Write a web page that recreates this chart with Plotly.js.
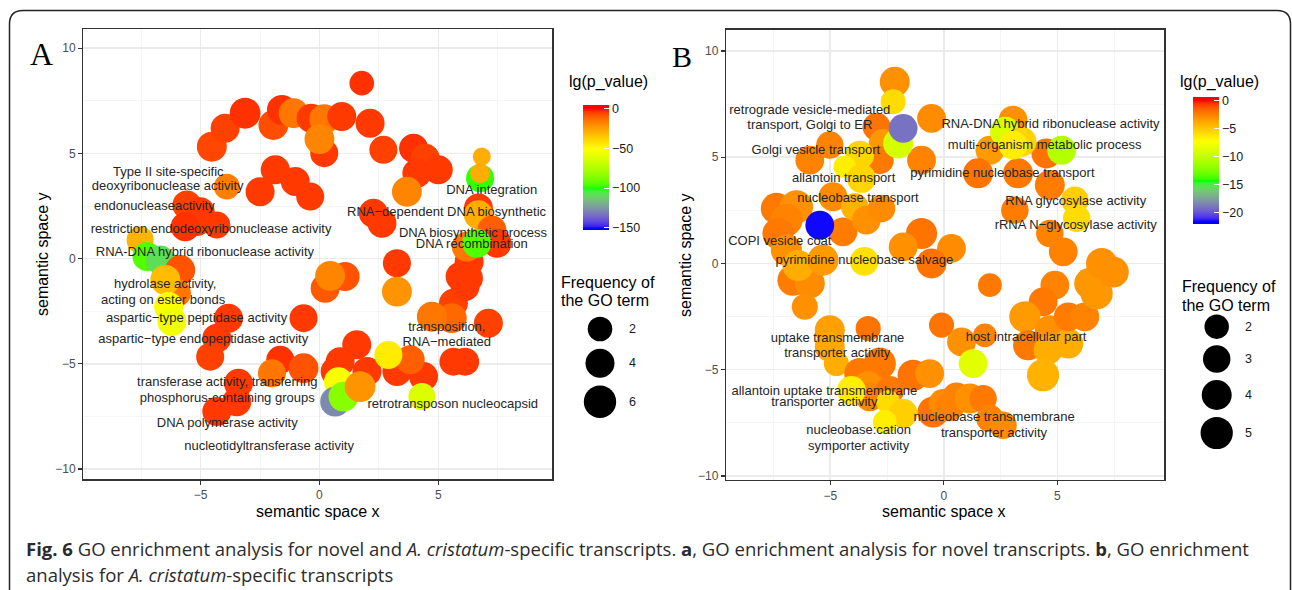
<!DOCTYPE html>
<html><head><meta charset="utf-8">
<script src="https://cdn.plot.ly/plotly-3.0.1.min.js"></script>
<style>html,body{margin:0;padding:0;background:#fff;}#chart{width:1292px;height:590px;}</style>
</head><body><div id="chart"></div>
<script>
// ---------------- Panel A data ----------------
const aX = [-4.53,-3.97,-3.13,-1.94,-1.58,-1.09,-0.35,0.20,0.94,0.20,0.00,1.78,2.13,2.69,3.96,4.45,4.10,5.00,3.68,2.27,2.63,-3.90,-2.50,-1.86,-1.02,-0.39,-5.58,-5.02,-5.16,-5.65,-4.32,-7.55,-7.26,-6.70,-5.86,-6.00,-6.49,-6.35,-6.21,-3.83,-4.32,-4.60,-3.41,-3.48,-4.32,-0.67,-1.65,-2.00,-0.67,0.24,1.08,0.45,3.26,3.26,1.57,0.87,0.66,2.00,3.26,4.38,3.82,2.90,4.31,0.80,0.66,1.01,1.71,5.64,6.13,6.27,6.30,5.92,5.57,4.73,7.11,5.64,6.13,6.69,6.69,7.26,7.47,6.20,6.62,6.76,6.83,6.76];
const aY = [5.32,6.20,6.91,6.35,7.07,6.91,6.67,6.63,6.75,5.01,5.68,8.34,6.44,5.17,5.25,4.77,4.06,4.22,3.18,2.16,1.68,3.42,3.18,4.22,3.66,2.95,2.55,2.23,1.76,1.52,1.60,0.89,0.10,-0.06,-0.54,-1.64,-1.01,-2.28,-2.99,-2.83,-3.78,-4.66,-5.92,-6.80,-7.27,-2.83,-4.81,-5.45,-5.21,-1.41,-0.85,-0.82,-0.22,-1.57,-4.10,-4.90,-5.37,-5.37,-5.37,-5.60,-4.81,-4.58,-6.56,-5.85,-6.80,-6.56,-6.08,-2.12,-1.33,-0.93,-0.15,-0.85,-2.83,-2.76,-3.07,-4.90,-4.90,2.40,2.08,1.36,0.73,0.57,0.73,3.82,4.85,4.06];
const aFreq = [4.5,4,5,4.5,4.5,4.5,4,4.5,4,3.5,4.5,2,4,3.5,4,4,4,4,4.5,4,4,2.5,4,4,4,3.5,4,4,4,4,3,3,4,4,4.5,3.5,4.5,4,4,4,4,3.5,4,4,4,3.5,3.5,3.5,4.5,4,4,4.5,3.5,4.5,4,4,4,4,4,4,4,3.5,3,4,4.5,4.5,5,4,4,4,4,4,4.5,4.5,4,3.5,3.5,4,4,4,4,4.5,4,3.5,0.3,0.6];
const aLg = [-6,-5,-3,-7,-3,-15,-4,-15,-4,-4,-18,-3,-4,-5,-3,-5,-4,-4,-18,-4,-4,-17,-4,-4,-4,-4,-5,-4,-4,-3,-4,-30,-95,-108,-8,-15,-32,-52,-55,-4,-4,-5,-4,-4,-4,-4,-3,-15,-8,-9,-8,-18,-4,-22,-4,-4,-4,-4,-4,-4,-10,-45,-62,-52,-128,-85,-22,-5,-4,-4,-4,-4,-12,-15,-5,-4,-4,-4,-28,-10,-4,-15,-95,-98,-28,-28];
const aLimit = -151;
const aLabels = ["Type II site-specific","deoxyribonuclease activity","endonucleaseactivity","restriction endodeoxyribonuclease activity","RNA-DNA hybrid ribonuclease activity","hydrolase activity,","acting on ester bonds","aspartic\u2212type peptidase activity","aspartic\u2212type endopeptidase activity","transferase activity, transferring","phosphorus-containing groups","DNA polymerase activity","nucleotidyltransferase activity","retrotransposon nucleocapsid","transposition,","RNA\u2212mediated","DNA integration","RNA\u2212dependent DNA biosynthetic","DNA biosynthetic process","DNA recombination"];
const aLabelX = [-6.36,-6.39,-6.95,-4.56,-4.82,-6.49,-6.58,-5.17,-4.89,-3.88,-3.88,-3.88,-2.12,5.61,5.36,5.36,7.25,5.35,6.46,6.41];
const aLabelY = [4.06,3.40,2.47,1.36,0.30,-1.25,-2.01,-2.88,-3.86,-5.92,-6.67,-7.86,-8.94,-6.96,-3.31,-4.02,3.22,2.16,1.17,0.65];
const aColorTicks = [0,-50,-100,-150];
const aColorTickText = ["0","\u221250","\u2212100","\u2212150"];
const aSizeLegend = [2,4,6];

// ---------------- Panel B data ----------------
const bX = [-2.16,-2.96,-2.67,-2.82,-3.70,-4.36,-3.63,-2.23,-5.02,-5.90,-0.54,-0.98,-4.88,-7.37,-6.49,-6.93,-7.30,-6.93,-6.64,-5.90,-6.42,-5.32,-6.12,-4.44,-3.92,-3.41,-2.74,-0.98,-1.79,0.34,-0.54,-3.50,-5.02,-5.02,-4.73,-3.33,-2.82,-3.70,-3.33,-3.26,-2.38,-1.35,-0.62,-4.07,-0.10,0.78,-2.45,-1.79,-2.60,-0.47,-0.03,0.26,0.56,1.15,1.73,2.03,2.61,1.81,2.03,1.29,5.26,4.89,4.37,3.57,4.67,3.71,5.48,4.59,4.37,5.48,6.21,6.43,6.73,6.95,7.46,3.05,2.03,1.51,3.27,4.52,4.67,3.13,4.67,2.70,3.42,3.05,5.19,5.77,5.85,-2.01,-1.79,-5.46];
const bY = [8.55,6.43,5.65,4.86,5.10,4.55,4.00,7.61,5.57,4.86,6.83,4.86,3.14,2.59,2.66,2.04,1.41,0.63,-0.79,-0.94,-0.10,0.16,-2.04,1.49,2.66,2.04,2.59,1.41,0.78,0.71,0.00,0.10,-3.14,-3.92,-4.71,-3.06,-4.71,-5.18,-5.81,-6.28,-5.97,-5.26,-5.18,-5.97,-2.90,-3.69,-6.52,-7.06,-7.46,-6.99,-6.59,-6.75,-6.28,-6.36,-6.36,-7.30,-7.61,-3.38,-1.02,-4.71,0.55,-1.02,-1.81,-2.51,-3.14,-3.85,-3.77,-4.08,-5.26,-2.51,-2.51,-0.94,-1.41,0.00,-0.40,6.75,5.33,4.24,4.24,5.18,3.69,2.51,1.41,6.20,5.73,5.57,5.33,2.98,2.12,5.65,6.36,1.80];
const bFreq = [4,3.2,3.5,3.2,3.5,1.5,3.5,2.2,3,3.5,3.5,3.5,3.5,4.5,5.5,5,4.5,4.5,4.5,4,4.5,4.5,2.5,3.5,3,3.5,3,4.5,3.5,3.5,4,3.5,4,4,2.2,2.2,5,4.5,4.5,3.5,3.5,4.5,3.5,3.5,2.2,3.5,1.8,3.5,1.8,4.5,3.5,3.5,3.5,4,3,3,3,1.8,1.8,3.5,3.5,3.5,3.5,4.5,4,4,4,3.5,5,3.5,3.5,4.5,5,4.5,4.5,3.5,3.5,4,4,4,4,3,3,4,4,3.5,3.5,3,3,4,3.5,3.5];
const bLg = [-3,-2,-3.2,-2.2,-5.5,-6.5,-5.5,-5.8,-2.5,-2.5,-2.8,-2.5,-2.8,-2.2,-3,-2.5,-2.2,-3,-2.3,-2.8,-4,-3.3,-3,-2.3,-4.2,-3,-2.8,-2,-3,-2.8,-2,-6,-3.5,-3.8,-4,-2,-2.2,-2.2,-3,-2.6,-2.2,-2,-3,-6.5,-2,-3,-5.8,-5.3,-6.5,-2,-2.8,-2.5,-2.5,-3,-2.2,-2.5,-2.8,-2.5,-2.2,-8.5,-2.5,-2.5,-2.2,-3.3,-3,-2.2,-4,-4,-4.2,-2.3,-2.5,-3.2,-3.2,-3,-3,-3,-3.3,-2,-2.2,-2,-2.3,-2.3,-2.5,-9,-5.5,-6.5,-10.5,-5.3,-5.8,-9.2,-19,-21.5];
const bLimit = -21.5;
const bLabels = ["retrograde vesicle-mediated","transport, Golgi to ER","Golgi vesicle transport","allantoin transport","nucleobase transport","COPI vesicle coat","pyrimidine nucleobase salvage","RNA-DNA hybrid ribonuclease activity","multi-organism metabolic process","pyrimidine nucleobase transport","RNA glycosylase activity","rRNA N\u2212glycosylase activity","uptake transmembrane","transporter activity","allantoin uptake transmembrane","transporter activity","nucleobase:cation","symporter activity","nucleobase transmembrane","transporter activity","host intracellular part"];
const bLabelX = [-5.90,-5.90,-5.63,-4.41,-3.78,-7.22,-3.50,4.70,4.44,2.58,5.81,5.81,-4.68,-4.69,-5.26,-5.26,-3.75,-3.75,2.22,2.21,3.62];
const bLabelY = [7.18,6.46,5.30,3.97,3.06,1.02,0.11,6.54,5.52,4.20,2.90,1.76,-3.53,-4.27,-6.04,-6.56,-7.89,-8.63,-7.27,-8.00,-3.48];
const bColorTicks = [0,-5,-10,-15,-20];
const bColorTickText = ["0","\u22125","\u221210","\u221215","\u221220"];
const bSizeLegend = [2,3,4,5];

// ---------------- shared axis labels ----------------
const xTickVals = [-5,0,5];
const xTickText = ["\u22125","0","5"];
const yTickVals = [-10,-5,0,5,10];
const yTickText = ["\u221210","\u22125","0","5","10"];
const minorVals = [-7.5,-2.5,2.5,7.5];
const axisTitleX = "semantic space x";
const axisTitleY = "semantic space y";
const colorTitle = "lg(p_value)";
const sizeTitle = ["Frequency of","the GO term"];
const captionLines = ["<b>Fig. 6</b> GO enrichment analysis for novel and <i>A. cristatum</i>-specific transcripts. <b>a</b>, GO enrichment analysis for novel transcripts. <b>b</b>, GO enrichment",
                      "analysis for <i>A. cristatum</i>-specific transcripts"];

// ---------------- styling helpers ----------------
const W = 1292, H = 590;
const FONT = '"Liberation Sans", Arial, sans-serif';
const px = x => x / W, py = y => 1 - y / H;
const sizeA = f => 14 + 7.5 * Math.sqrt(f);
const sizeB = f => 11 + 9.5 * Math.sqrt(f);

// Lab interpolation (like ggplot's gradientn)
function lin(c){c/=255;return c<=0.04045?c/12.92:Math.pow((c+0.055)/1.055,2.4);}
function gam(c){c=c<=0.0031308?12.92*c:1.055*Math.pow(c,1/2.4)-0.055;return Math.round(Math.max(0,Math.min(1,c))*255);}
function toLab(rgb){const r=lin(rgb[0]),g=lin(rgb[1]),b=lin(rgb[2]);
  const X=(0.4124564*r+0.3575761*g+0.1804375*b)/0.95047,Y=(0.2126729*r+0.7151522*g+0.0721750*b),Z=(0.0193339*r+0.1191920*g+0.9503041*b)/1.08883;
  const f=t=>t>0.008856?Math.cbrt(t):7.787*t+16/116;const fx=f(X),fy=f(Y),fz=f(Z);
  return [116*fy-16,500*(fx-fy),200*(fy-fz)];}
function fromLab(l){const fy=(l[0]+16)/116,fx=fy+l[1]/500,fz=fy-l[2]/200;
  const fi=t=>{const t3=t*t*t;return t3>0.008856?t3:(t-16/116)/7.787;};
  const X=0.95047*fi(fx),Y=fi(fy),Z=1.08883*fi(fz);
  const r=3.2404542*X-1.5371385*Y-0.4985314*Z,g=-0.9692660*X+1.8760108*Y+0.0415560*Z,b=0.0556434*X-0.2040259*Y+1.0572252*Z;
  return 'rgb('+gam(r)+','+gam(g)+','+gam(b)+')';}
const anchors=[[0,0,255],[0,255,0],[255,255,0],[255,0,0]].map(toLab);
function grad(t){t=Math.max(0,Math.min(1,t));const s=Math.min(2,Math.floor(t*3));const u=t*3-s;
  const a=anchors[s],b=anchors[s+1];return fromLab([a[0]+(b[0]-a[0])*u,a[1]+(b[1]-a[1])*u,a[2]+(b[2]-a[2])*u]);}
function scale(cmin,cmax,limit){const out=[];const N=80;
  for(let i=0;i<=N;i++){const v=cmin+(cmax-cmin)*i/N;out.push([i/N,grad((v-limit)/(0-limit))]);}return out;}

const aC = {cmin:-153, cmax:5}, bC = {cmin:-22, cmax:0.7};

function axis(dom, rng, tv, tt, anchor){
  return {domain:dom, range:rng, anchor:anchor, tickmode:'array', tickvals:tv, ticktext:tt,
    showline:true, mirror:true, linecolor:'#333333', linewidth:1.2,
    ticks:'outside', ticklen:4, tickwidth:1.1, tickcolor:'#333333',
    tickfont:{family:FONT,size:12,color:'#4D4D4D'},
    showgrid:true, gridcolor:'#EBEBEB', gridwidth:1.5, zeroline:false, fixedrange:true,
    minor:{tickmode:'array', tickvals:minorVals, showgrid:true, gridcolor:'#F3F3F3', gridwidth:0.8, ticks:''}};
}

const traces = [
  {type:'scatter', mode:'markers', x:aX, y:aY, xaxis:'x', yaxis:'y', hoverinfo:'skip', cliponaxis:false,
   marker:{size:aFreq.map(sizeA), color:aLg, coloraxis:'coloraxis', opacity:1, line:{width:0}}},
  {type:'scatter', mode:'text', x:aLabelX, y:aLabelY, text:aLabels, xaxis:'x', yaxis:'y', hoverinfo:'skip', cliponaxis:false,
   textposition:'middle center', textfont:{family:FONT,size:13,color:'#262626'}},
  {type:'scatter', mode:'markers', x:bX, y:bY, xaxis:'x2', yaxis:'y2', hoverinfo:'skip', cliponaxis:false,
   marker:{size:bFreq.map(sizeB), color:bLg, coloraxis:'coloraxis2', opacity:1, line:{width:0}}},
  {type:'scatter', mode:'text', x:bLabelX, y:bLabelY, text:bLabels, xaxis:'x2', yaxis:'y2', hoverinfo:'skip', cliponaxis:false,
   textposition:'middle center', textfont:{family:FONT,size:13,color:'#262626'}},
  // size legend keys (pixel overlay axes)
  {type:'scatter', mode:'markers', x:aSizeLegend.map(()=>600), y:[329,363.3,401.7], xaxis:'x3', yaxis:'y3', hoverinfo:'skip', cliponaxis:false,
   marker:{size:aSizeLegend.map(sizeA), color:'rgb(0,0,0)', opacity:1, line:{width:0}}},
  {type:'scatter', mode:'markers', x:bSizeLegend.map(()=>1216.7), y:[326.7,359,395,433], xaxis:'x3', yaxis:'y3', hoverinfo:'skip', cliponaxis:false,
   marker:{size:bSizeLegend.map(sizeB), color:'rgb(0,0,0)', opacity:1, line:{width:0}}}
];

const ann = [];
function A(o){ann.push(Object.assign({xref:'paper',yref:'paper',showarrow:false,xanchor:'center',yanchor:'middle'},o));}
A({text:'A', x:px(41), y:py(54), font:{family:'"Liberation Serif", "Times New Roman", serif', size:32, color:'#000'}});
A({text:'B', x:px(682), y:py(56), font:{family:'"Liberation Serif", "Times New Roman", serif', size:30, color:'#000'}});
A({text:axisTitleX, x:px(318), y:py(511), font:{family:FONT,size:16,color:'#000'}});
A({text:axisTitleX, x:px(944), y:py(511), font:{family:FONT,size:16,color:'#000'}});
A({text:axisTitleY, x:px(42), y:py(254), textangle:-90, font:{family:FONT,size:16,color:'#000'}});
A({text:axisTitleY, x:px(686), y:py(255), textangle:-90, font:{family:FONT,size:16,color:'#000'}});
A({text:colorTitle, x:px(566.7), xanchor:'left', y:py(81.7), font:{family:FONT,size:16,color:'#000'}});
A({text:colorTitle, x:px(1178.3), xanchor:'left', y:py(81.7), font:{family:FONT,size:16,color:'#000'}});
A({text:sizeTitle[0], x:px(559.3), xanchor:'left', y:py(282.7), font:{family:FONT,size:16,color:'#000'}});
A({text:sizeTitle[1], x:px(559.3), xanchor:'left', y:py(300.7), font:{family:FONT,size:16,color:'#000'}});
A({text:sizeTitle[0], x:px(1180), xanchor:'left', y:py(286), font:{family:FONT,size:16,color:'#000'}});
A({text:sizeTitle[1], x:px(1180), xanchor:'left', y:py(305), font:{family:FONT,size:16,color:'#000'}});
[329,363.3,401.7].forEach((yy,i)=>A({text:String(aSizeLegend[i]), x:px(632), y:py(yy), font:{family:FONT,size:12.5,color:'#1a1a1a'}}));
[326.7,359,395,433].forEach((yy,i)=>A({text:String(bSizeLegend[i]), x:px(1248.3), y:py(yy), font:{family:FONT,size:12.5,color:'#1a1a1a'}}));
A({text:captionLines[0], x:px(24), xanchor:'left', y:py(548), font:{family:'"Open Sans", sans-serif', size:18.5, color:'#2b2b2b'}});
A({text:captionLines[1], x:px(24), xanchor:'left', y:py(574), font:{family:'"Open Sans", sans-serif', size:18.5, color:'#2b2b2b'}});

function cbar(x0, ytop, len, thick, tv, tt){
  return {x:px(x0), xanchor:'left', y:py(ytop), yanchor:'top', len:len, lenmode:'pixels',
    thickness:thick, thicknessmode:'pixels', xpad:0, ypad:0, outlinewidth:0,
    tickmode:'array', tickvals:tv, ticktext:tt, ticks:'inside', ticklen:5, tickwidth:1, tickcolor:'#ffffff',
    tickfont:{family:FONT,size:12.5,color:'#1a1a1a'}, title:{text:''}};
}

const layout = {
  width:W, height:H, margin:{l:0,r:0,t:0,b:0}, paper_bgcolor:'#ffffff', plot_bgcolor:'rgba(0,0,0,0)',
  showlegend:false, font:{family:FONT},
  xaxis: axis([px(83.3),px(552.3)], [-9.94,9.80], xTickVals, xTickText, 'y'),
  yaxis: axis([py(479.3),py(29.3)], [-10.49,10.90], yTickVals, yTickText, 'x'),
  xaxis2: axis([px(726),px(1164.3)], [-9.59,9.71], xTickVals, xTickText, 'y2'),
  yaxis2: axis([py(480),py(29.5)], [-10.19,11.01], yTickVals, yTickText, 'x2'),
  xaxis3: {domain:[0,1], range:[0,W], visible:false, fixedrange:true, anchor:'y3'},
  yaxis3: {domain:[0,1], range:[H,0], visible:false, fixedrange:true, anchor:'x3'},
  coloraxis: {cmin:aC.cmin, cmax:aC.cmax, colorscale:scale(aC.cmin,aC.cmax,aLimit),
    colorbar: cbar(582.7,105,125,25.6,aColorTicks,aColorTickText)},
  coloraxis2: {cmin:bC.cmin, cmax:bC.cmax, colorscale:scale(bC.cmin,bC.cmax,bLimit),
    colorbar: cbar(1192.7,96.7,127.3,26,bColorTicks,bColorTickText)},
  annotations: ann,
  shapes: [{type:'path', xref:'x3', yref:'y3', path:'M 9.5,600 L 9.5,24 Q 9.5,10.5 23,10.5 L 1277,10.5 Q 1290.5,10.5 1290.5,24 L 1290.5,600',
    line:{color:'#222222', width:1.5}, fillcolor:'rgba(0,0,0,0)', layer:'below'}]
};

Plotly.newPlot('chart', traces, layout, {staticPlot:true, displayModeBar:false});
</script></body></html>
